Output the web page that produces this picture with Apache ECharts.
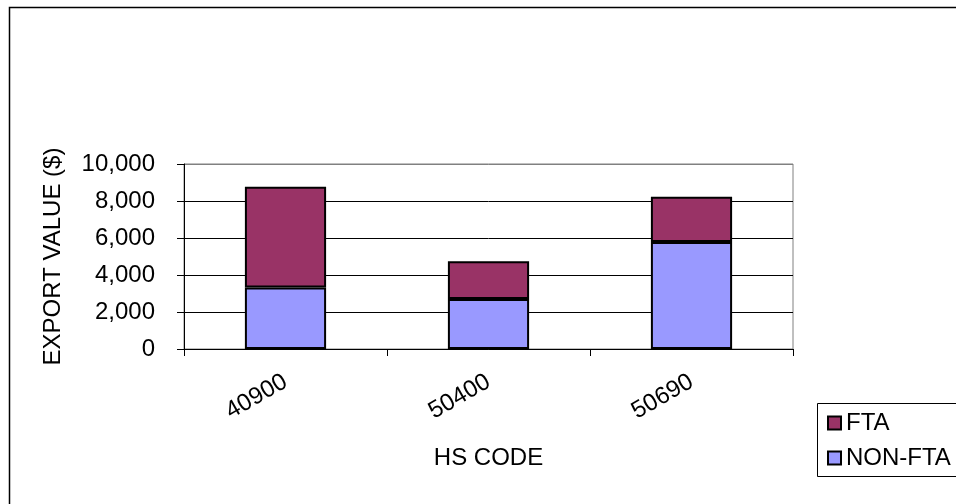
<!DOCTYPE html>
<html>
<head>
<meta charset="utf-8">
<script src="https://cdn.jsdelivr.net/npm/echarts@6/dist/echarts.min.js"></script>
<style>
  html, body { margin: 0; padding: 0; background: #fff; }
  #chart { width: 956px; height: 504px; }
</style>
</head>
<body>
<div id="chart"></div>
<script>
// HS codes on the x axis
const categories = ["40900", "50400", "50690"];
// stacked export values ($)
const nonFtaValues = [3330, 2700, 5780];
const ftaValues = [5440, 2040, 2450];
const yTicks = { min: 0, max: 10000, interval: 2000 };

const font = "Arial, 'Liberation Sans', sans-serif";
const fontSize = 24;
const barBorder = { borderColor: "#000", borderWidth: 2 };

const chart = echarts.init(document.getElementById("chart"), null, {
  renderer: "canvas",
});

const option = {
  backgroundColor: "#fff",
  animation: false,
  textStyle: { fontFamily: font, color: "#000" },
  grid: {
    left: 184,
    right: 163,
    top: 164,
    bottom: 155,
    show: true,
    borderColor: "#808080",
    borderWidth: 1,
  },
  // outer chart frame and legend box (cut by the window edge)
  graphic: [
    {
      type: "rect",
      shape: { x: 9.5, y: 7.5, width: 1000, height: 600 },
      style: { fill: null, stroke: "#000", lineWidth: 1.5 },
      silent: true,
    },
    {
      type: "rect",
      shape: { x: 817.5, y: 403.5, width: 200, height: 73 },
      style: { fill: "#fff", stroke: "#000", lineWidth: 1 },
      silent: true,
      z: 1,
    },
  ],
  legend: {
    orient: "vertical",
    left: 827,
    top: 411,
    padding: 0,
    itemGap: 11,
    itemWidth: 13,
    itemHeight: 13,
    icon: "rect",
    data: ["FTA", "NON-FTA"],
    textStyle: { fontSize: fontSize, fontFamily: font, color: "#000" },
    itemStyle: { borderColor: "#000", borderWidth: 2 },
    z: 5,
  },
  xAxis: {
    type: "category",
    data: categories,
    name: "HS CODE",
    nameLocation: "middle",
    nameGap: 97,
    nameTextStyle: { fontSize: fontSize, color: "#000" },
    axisLine: { lineStyle: { color: "#000", width: 1 } },
    axisTick: { show: true, length: 7, lineStyle: { color: "#000" } },
    axisLabel: {
      rotate: 30,
      fontSize: fontSize,
      color: "#000",
      margin: 31,
    },
  },
  yAxis: {
    type: "value",
    min: yTicks.min,
    max: yTicks.max,
    interval: yTicks.interval,
    name: "EXPORT VALUE ($)",
    nameLocation: "middle",
    nameGap: 119,
    nameTextStyle: { fontSize: fontSize, color: "#000" },
    axisLine: { show: true, lineStyle: { color: "#000", width: 1 } },
    axisTick: { show: true, length: 7, lineStyle: { color: "#000" } },
    // top line is the grey plot-area border
    splitLine: {
      lineStyle: {
        color: ["#000", "#000", "#000", "#000", "#000", "#808080"],
        width: 1,
      },
    },
    axisLabel: {
      fontSize: fontSize,
      color: "#000",
      margin: 29,
      formatter: (v) => v.toLocaleString("en-US"),
    },
  },
  series: [
    {
      name: "NON-FTA",
      type: "bar",
      stack: "total",
      data: nonFtaValues,
      barWidth: "40%",
      itemStyle: { color: "#9999FF", ...barBorder },
    },
    {
      name: "FTA",
      type: "bar",
      stack: "total",
      data: ftaValues,
      barWidth: "40%",
      itemStyle: { color: "#993366", ...barBorder },
    },
  ],
};

chart.setOption(option);
</script>
</body>
</html>
